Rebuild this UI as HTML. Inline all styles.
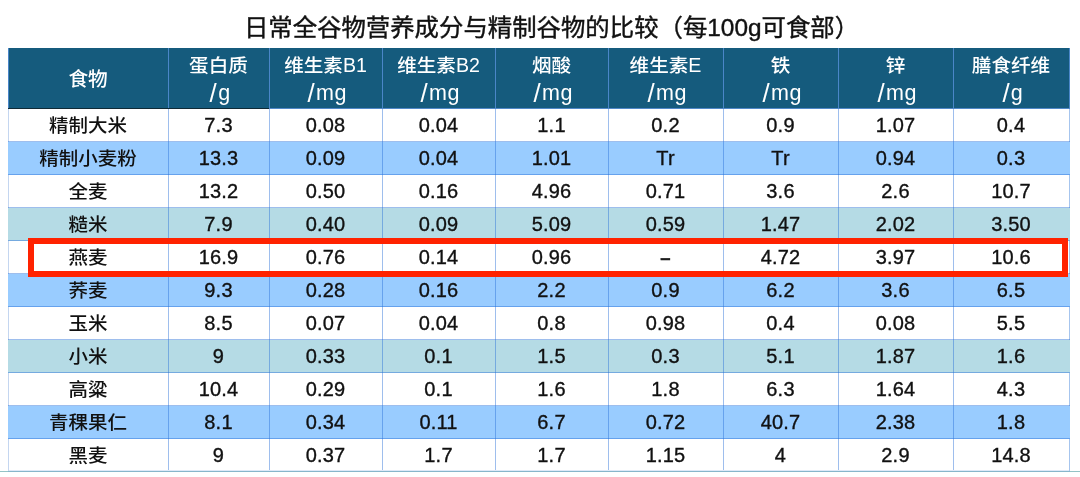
<!DOCTYPE html>
<html lang="zh-CN"><head><meta charset="utf-8"><title>日常全谷物营养成分与精制谷物的比较</title>
<style>
html,body{margin:0;padding:0;background:#fff;}
.pg{position:absolute;left:0;top:0;width:1080px;height:477px;filter:blur(0.4px);}
body{width:1080px;height:477px;position:relative;overflow:hidden;
 font-family:"Liberation Sans","Noto Sans CJK SC",sans-serif;color:#111;}
.t{position:absolute;left:4.5px;top:7.7px;width:1094px;text-align:center;font-size:24.4px;line-height:40px;white-space:nowrap;}
.k{display:inline-block;transform:scaleY(0.94);transform-origin:50% 60%;font-weight:500;}
.t{-webkit-text-stroke:0.4px #111;}
.t .k{-webkit-text-stroke:0;transform:none;}
.hd{position:absolute;left:8px;top:48px;width:1061px;height:60px;background:#155b7d;}
.hl{position:absolute;left:8px;top:108px;width:261px;height:1px;background:#0f2a36;}
.hl2{position:absolute;left:269px;top:108px;width:801px;height:1px;background:#5088c8;}
.r{position:absolute;left:8px;width:1062px;height:33px;}
.c{position:absolute;top:0;height:32px;line-height:32px;text-align:center;font-size:20px;white-space:nowrap;letter-spacing:0.2px;}
.c .k{font-size:19.5px;letter-spacing:0;-webkit-text-stroke:0;}
.c{-webkit-text-stroke:0.35px #111;}
.h{position:absolute;top:48px;height:60px;text-align:center;font-size:19.6px;color:#fff;white-space:nowrap;}
.h .a{position:absolute;left:0;right:0;top:3.5px;line-height:27px;}
.h .a .k{transform:scaleY(0.95);}
.h .b{position:absolute;left:0;right:0;top:30.25px;line-height:27px;font-size:21.5px;letter-spacing:0.6px;text-indent:2px;}
.h .b{top:31.6px;}
.sl{margin-right:1.5px;display:inline-block;transform:translateY(0.6px) scale(1.2,1.16);}
.dash{font-size:18.5px;font-weight:bold;position:relative;top:-0.2px;color:#222;}
.h .s{position:absolute;left:0;right:0;top:18px;line-height:27px;}
.h .s .k{transform:none;}
.vl{position:absolute;width:1px;}
.hz{position:absolute;left:8px;width:1062px;height:1px;background:rgba(40,110,215,0.45);}
.bx{position:absolute;left:28px;top:238px;width:1028px;height:26.5px;border:6px solid #ff2200;}
.bl{position:absolute;left:0;top:471px;width:1080px;height:1px;background:#94c3c6;}
.bl2{position:absolute;left:8px;top:471px;width:1062px;height:1px;background:#87b6cb;}
</style></head><body><div class="pg">
<div class="t">日常全谷物营养成分与精制谷物的比较（每100g可食部）</div>
<div class="hd"></div>

<div class="h" style="left:8px;width:160px"><div class="s"><span class="k">食物</span></div></div>
<div class="h" style="left:168px;width:101px"><div class="a"><span class="k">蛋白质</span></div><div class="b"><span class="sl">/</span>g</div></div>
<div class="h" style="left:269px;width:113px"><div class="a"><span class="k">维生素</span>B1</div><div class="b"><span class="sl">/</span>mg</div></div>
<div class="h" style="left:382px;width:113px"><div class="a"><span class="k">维生素</span>B2</div><div class="b"><span class="sl">/</span>mg</div></div>
<div class="h" style="left:495px;width:113px"><div class="a"><span class="k">烟酸</span></div><div class="b"><span class="sl">/</span>mg</div></div>
<div class="h" style="left:608px;width:115px"><div class="a"><span class="k">维生素</span>E</div><div class="b"><span class="sl">/</span>mg</div></div>
<div class="h" style="left:723px;width:115px"><div class="a"><span class="k">铁</span></div><div class="b"><span class="sl">/</span>mg</div></div>
<div class="h" style="left:838px;width:115px"><div class="a"><span class="k">锌</span></div><div class="b"><span class="sl">/</span>mg</div></div>
<div class="h" style="left:953px;width:116px"><div class="a"><span class="k">膳食纤维</span></div><div class="b"><span class="sl">/</span>g</div></div>
<div class="hl"></div><div class="hl2"></div>
<div class="vl" style="left:8px;top:109px;height:362px;background:#c4d6f0"></div>
<div class="vl" style="left:1069px;top:109px;height:362px;background:#a6c5ee"></div>
<div class="r" style="top:109px">
<div class="c" style="left:0px;width:160px"><span class="k">精制大米</span></div>
<div class="c" style="left:160px;width:101px">7.3</div>
<div class="c" style="left:261px;width:113px">0.08</div>
<div class="c" style="left:374px;width:113px">0.04</div>
<div class="c" style="left:487px;width:113px">1.1</div>
<div class="c" style="left:600px;width:115px">0.2</div>
<div class="c" style="left:715px;width:115px">0.9</div>
<div class="c" style="left:830px;width:115px">1.07</div>
<div class="c" style="left:945px;width:116px">0.4</div>
</div>
<div class="r" style="top:142px;background:#99ccff">
<div class="c" style="left:0px;width:160px"><span class="k">精制小麦粉</span></div>
<div class="c" style="left:160px;width:101px">13.3</div>
<div class="c" style="left:261px;width:113px">0.09</div>
<div class="c" style="left:374px;width:113px">0.04</div>
<div class="c" style="left:487px;width:113px">1.01</div>
<div class="c" style="left:600px;width:115px">Tr</div>
<div class="c" style="left:715px;width:115px">Tr</div>
<div class="c" style="left:830px;width:115px">0.94</div>
<div class="c" style="left:945px;width:116px">0.3</div>
</div>
<div class="r" style="top:175px">
<div class="c" style="left:0px;width:160px"><span class="k">全麦</span></div>
<div class="c" style="left:160px;width:101px">13.2</div>
<div class="c" style="left:261px;width:113px">0.50</div>
<div class="c" style="left:374px;width:113px">0.16</div>
<div class="c" style="left:487px;width:113px">4.96</div>
<div class="c" style="left:600px;width:115px">0.71</div>
<div class="c" style="left:715px;width:115px">3.6</div>
<div class="c" style="left:830px;width:115px">2.6</div>
<div class="c" style="left:945px;width:116px">10.7</div>
</div>
<div class="r" style="top:208px;background:#b5dbe5">
<div class="c" style="left:0px;width:160px"><span class="k">糙米</span></div>
<div class="c" style="left:160px;width:101px">7.9</div>
<div class="c" style="left:261px;width:113px">0.40</div>
<div class="c" style="left:374px;width:113px">0.09</div>
<div class="c" style="left:487px;width:113px">5.09</div>
<div class="c" style="left:600px;width:115px">0.59</div>
<div class="c" style="left:715px;width:115px">1.47</div>
<div class="c" style="left:830px;width:115px">2.02</div>
<div class="c" style="left:945px;width:116px">3.50</div>
</div>
<div class="r" style="top:241px">
<div class="c" style="left:0px;width:160px"><span class="k">燕麦</span></div>
<div class="c" style="left:160px;width:101px">16.9</div>
<div class="c" style="left:261px;width:113px">0.76</div>
<div class="c" style="left:374px;width:113px">0.14</div>
<div class="c" style="left:487px;width:113px">0.96</div>
<div class="c" style="left:600px;width:115px"><span class="dash">–</span></div>
<div class="c" style="left:715px;width:115px">4.72</div>
<div class="c" style="left:830px;width:115px">3.97</div>
<div class="c" style="left:945px;width:116px">10.6</div>
</div>
<div class="r" style="top:274px;background:#99ccff">
<div class="c" style="left:0px;width:160px"><span class="k">荞麦</span></div>
<div class="c" style="left:160px;width:101px">9.3</div>
<div class="c" style="left:261px;width:113px">0.28</div>
<div class="c" style="left:374px;width:113px">0.16</div>
<div class="c" style="left:487px;width:113px">2.2</div>
<div class="c" style="left:600px;width:115px">0.9</div>
<div class="c" style="left:715px;width:115px">6.2</div>
<div class="c" style="left:830px;width:115px">3.6</div>
<div class="c" style="left:945px;width:116px">6.5</div>
</div>
<div class="r" style="top:307px">
<div class="c" style="left:0px;width:160px"><span class="k">玉米</span></div>
<div class="c" style="left:160px;width:101px">8.5</div>
<div class="c" style="left:261px;width:113px">0.07</div>
<div class="c" style="left:374px;width:113px">0.04</div>
<div class="c" style="left:487px;width:113px">0.8</div>
<div class="c" style="left:600px;width:115px">0.98</div>
<div class="c" style="left:715px;width:115px">0.4</div>
<div class="c" style="left:830px;width:115px">0.08</div>
<div class="c" style="left:945px;width:116px">5.5</div>
</div>
<div class="r" style="top:340px;background:#b5dbe5">
<div class="c" style="left:0px;width:160px"><span class="k">小米</span></div>
<div class="c" style="left:160px;width:101px">9</div>
<div class="c" style="left:261px;width:113px">0.33</div>
<div class="c" style="left:374px;width:113px">0.1</div>
<div class="c" style="left:487px;width:113px">1.5</div>
<div class="c" style="left:600px;width:115px">0.3</div>
<div class="c" style="left:715px;width:115px">5.1</div>
<div class="c" style="left:830px;width:115px">1.87</div>
<div class="c" style="left:945px;width:116px">1.6</div>
</div>
<div class="r" style="top:373px">
<div class="c" style="left:0px;width:160px"><span class="k">高粱</span></div>
<div class="c" style="left:160px;width:101px">10.4</div>
<div class="c" style="left:261px;width:113px">0.29</div>
<div class="c" style="left:374px;width:113px">0.1</div>
<div class="c" style="left:487px;width:113px">1.6</div>
<div class="c" style="left:600px;width:115px">1.8</div>
<div class="c" style="left:715px;width:115px">6.3</div>
<div class="c" style="left:830px;width:115px">1.64</div>
<div class="c" style="left:945px;width:116px">4.3</div>
</div>
<div class="r" style="top:406px;background:#99ccff">
<div class="c" style="left:0px;width:160px"><span class="k">青稞果仁</span></div>
<div class="c" style="left:160px;width:101px">8.1</div>
<div class="c" style="left:261px;width:113px">0.34</div>
<div class="c" style="left:374px;width:113px">0.11</div>
<div class="c" style="left:487px;width:113px">6.7</div>
<div class="c" style="left:600px;width:115px">0.72</div>
<div class="c" style="left:715px;width:115px">40.7</div>
<div class="c" style="left:830px;width:115px">2.38</div>
<div class="c" style="left:945px;width:116px">1.8</div>
</div>
<div class="r" style="top:439px">
<div class="c" style="left:0px;width:160px"><span class="k">黑麦</span></div>
<div class="c" style="left:160px;width:101px">9</div>
<div class="c" style="left:261px;width:113px">0.37</div>
<div class="c" style="left:374px;width:113px">1.7</div>
<div class="c" style="left:487px;width:113px">1.7</div>
<div class="c" style="left:600px;width:115px">1.15</div>
<div class="c" style="left:715px;width:115px">4</div>
<div class="c" style="left:830px;width:115px">2.9</div>
<div class="c" style="left:945px;width:116px">14.8</div>
</div>
<div class="hz" style="top:141px"></div>
<div class="hz" style="top:174px"></div>
<div class="hz" style="top:207px"></div>
<div class="hz" style="top:240px"></div>
<div class="hz" style="top:273px"></div>
<div class="hz" style="top:306px"></div>
<div class="hz" style="top:339px"></div>
<div class="hz" style="top:372px"></div>
<div class="hz" style="top:405px"></div>
<div class="hz" style="top:438px"></div>
<div class="vl" style="left:8px;top:48px;height:60px;background:#4a86c8"></div>
<div class="vl" style="left:168px;top:48px;height:60px;background:#4a86c8"></div>
<div class="vl" style="left:269px;top:48px;height:60px;background:#4a86c8"></div>
<div class="vl" style="left:382px;top:48px;height:60px;background:#4a86c8"></div>
<div class="vl" style="left:495px;top:48px;height:60px;background:#4a86c8"></div>
<div class="vl" style="left:608px;top:48px;height:60px;background:#4a86c8"></div>
<div class="vl" style="left:723px;top:48px;height:60px;background:#4a86c8"></div>
<div class="vl" style="left:838px;top:48px;height:60px;background:#4a86c8"></div>
<div class="vl" style="left:953px;top:48px;height:60px;background:#4a86c8"></div>
<div class="vl" style="left:1069px;top:48px;height:60px;background:#4a86c8"></div>
<div class="vl" style="left:168px;top:109px;height:362px;background:rgba(40,110,215,0.45)"></div>
<div class="vl" style="left:269px;top:109px;height:362px;background:rgba(40,110,215,0.45)"></div>
<div class="vl" style="left:382px;top:109px;height:362px;background:rgba(40,110,215,0.45)"></div>
<div class="vl" style="left:495px;top:109px;height:362px;background:rgba(40,110,215,0.45)"></div>
<div class="vl" style="left:608px;top:109px;height:362px;background:rgba(40,110,215,0.45)"></div>
<div class="vl" style="left:723px;top:109px;height:362px;background:rgba(40,110,215,0.45)"></div>
<div class="vl" style="left:838px;top:109px;height:362px;background:rgba(40,110,215,0.45)"></div>
<div class="vl" style="left:953px;top:109px;height:362px;background:rgba(40,110,215,0.45)"></div>
<div class="hz" style="top:470px;left:9px;width:1060px;background:#dfe9f8"></div><div class="bl"></div><div class="bl2"></div>
<div class="bx"></div>
</div></body></html>
